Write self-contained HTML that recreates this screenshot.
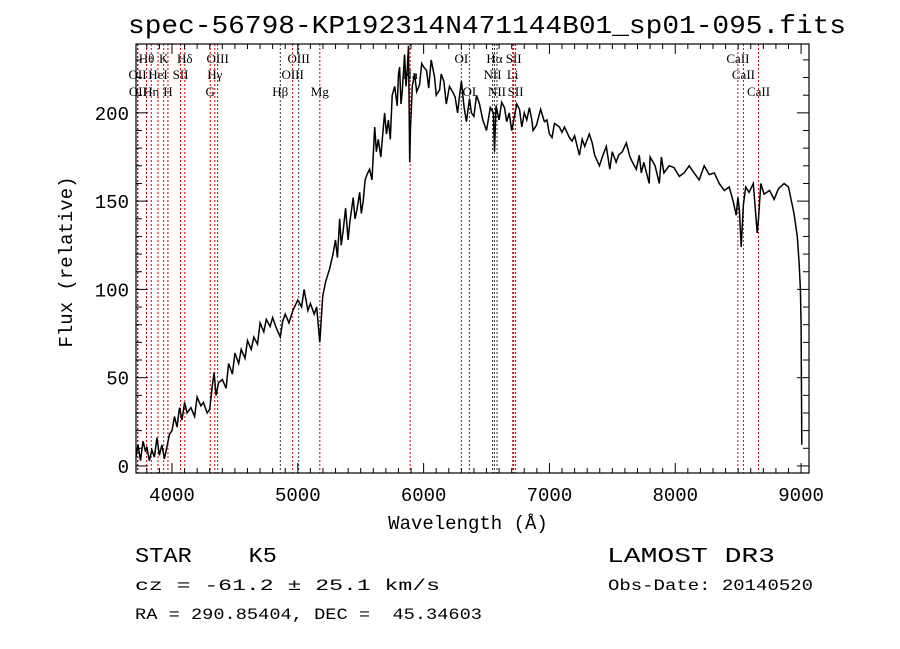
<!DOCTYPE html>
<html><head><meta charset="utf-8"><style>
html,body{margin:0;padding:0;background:#fff;}
svg{display:block;}
text{font-family:"Liberation Serif",serif;fill:#000;}
.m{font-family:"Liberation Mono",monospace;white-space:pre;}
</style></head><body>
<svg id="chart" width="900" height="649" viewBox="0 0 900 649" xmlns="http://www.w3.org/2000/svg">
<rect x="0" y="0" width="900" height="649" fill="#fff"/>
<text class="m" x="128" y="33" font-size="26" textLength="718" lengthAdjust="spacingAndGlyphs">spec-56798-KP192314N471144B01_sp01-095.fits</text>
<g id="lines"></g>
<g id="ticks"></g>
<path id="spec" fill="none" stroke="#000" stroke-width="1.5"/>
<rect x="136" y="44" width="673" height="429" fill="none" stroke="#000" stroke-width="1.2"/>
<text class="m" x="468" y="529" font-size="19" text-anchor="middle">Wavelength (Å)</text>
<text class="m" transform="translate(72,262) rotate(-90)" font-size="19" text-anchor="middle">Flux (relative)</text>
<text class="m" x="135" y="562" font-size="21" textLength="142" lengthAdjust="spacingAndGlyphs">STAR    K5</text>
<text class="m" x="607" y="562" font-size="21" textLength="168" lengthAdjust="spacingAndGlyphs">LAMOST DR3</text>
<text class="m" x="135" y="590" font-size="16" textLength="305" lengthAdjust="spacingAndGlyphs">cz = -61.2 ± 25.1 km/s</text>
<text class="m" x="608" y="590" font-size="16" textLength="205" lengthAdjust="spacingAndGlyphs">Obs-Date: 20140520</text>
<text class="m" x="135" y="619" font-size="16" textLength="347" lengthAdjust="spacingAndGlyphs">RA = 290.85404, DEC =  45.34603</text>
</svg>
<script>
const wave = [3714,3730,3750,3770,3790,3800,3820,3840,3860,3880,3900,3920,3940,3960,3980,4000,4020,4040,4060,4080,4100,4120,4150,4180,4200,4230,4250,4280,4300,4320,4335,4350,4370,4400,4430,4450,4480,4500,4530,4550,4580,4600,4630,4650,4680,4700,4730,4750,4780,4800,4830,4861,4880,4900,4930,4960,5000,5030,5050,5080,5100,5130,5150,5175,5198,5220,5254,5280,5300,5315,5333,5345,5360,5380,5400,5413,5440,5455,5470,5492,5505,5520,5535,5550,5571,5590,5611,5625,5640,5660,5690,5705,5720,5735,5750,5770,5790,5800,5809,5820,5830,5849,5860,5870,5880,5889,5895,5910,5928,5945,5968,5985,6000,6024,6040,6060,6087,6100,6127,6140,6160,6180,6206,6230,6250,6270,6286,6300,6320,6340,6365,6380,6400,6420,6444,6470,6500,6530,6555,6563,6575,6600,6620,6643,6660,6680,6700,6722,6740,6762,6780,6800,6820,6841,6860,6870,6897,6930,6960,6980,7000,7020,7040,7079,7100,7120,7159,7180,7200,7238,7260,7280,7317,7340,7360,7397,7420,7452,7480,7500,7530,7550,7580,7611,7640,7660,7690,7714,7730,7750,7793,7800,7840,7873,7890,7910,7952,7990,8032,8070,8111,8150,8190,8230,8270,8310,8349,8390,8429,8460,8484,8498,8510,8524,8542,8560,8587,8620,8651,8662,8680,8706,8750,8786,8820,8865,8900,8944,8970,8984,8995,9000,9003,9006,9010,9015];
const flux = [5,12,3,14,8,11,3,9,5,16,6,12,4,11,18,20,28,22,33,26,36,30,33,28,39,34,36,30,32,45,53,40,47,49,44,58,52,64,58,66,61,71,66,73,69,81,76,83,79,84,78,73,82,86,81,88,94,90,100,88,92,86,90,70,96,104,112,120,128,118,140,125,133,146,128,138,152,140,145,155,143,150,162,165,168,162,192,178,185,175,200,188,196,185,210,215,204,222,226,205,212,233,215,225,238,172,190,215,222,212,216,228,226,224,214,230,220,210,213,222,218,205,215,212,209,200,210,218,204,195,208,200,198,210,205,196,190,203,200,178,204,196,206,203,195,200,190,198,205,202,192,200,196,203,196,190,193,202,195,196,188,186,194,192,189,192,186,184,187,176,185,181,188,183,176,170,175,181,168,178,172,176,178,183,175,172,168,176,166,172,160,175,170,160,175,166,170,169,164,166,170,166,162,170,165,166,160,156,158,150,142,152,145,124,148,158,155,160,132,140,160,154,156,151,157,160,158,143,130,115,100,80,40,12];
const xMin=3714, xMax=9063, yMin=-4, yMax=239;
const xTicks=[4000,5000,6000,7000,8000,9000];
const yTicks=[0,50,100,150,200];
const lineWaves=[3726,3729,3798,3835,3889,3934,3968,4068,4102,4304,4340,4363,4861,4959,5007,5175,5893,6300,6364,6548,6563,6583,6708,6716,6731,8498,8542,8662];
const lineLabels=["OII","OII","Hθ","Hη","HeI","K","H","SII","Hδ","G","Hγ","OIII","Hβ","OIII","OIII","Mg","Na","OI","OI","NII","Hα","NII","Li","SII","SII","CaII","CaII","CaII"];
const lineRows=[2,3,1,3,2,1,3,2,1,3,2,1,3,2,1,3,2,1,3,2,1,3,2,1,3,1,2,3];
const L=136,R=809,T=44,B=473;
function sx(w){return L+(w-xMin)/(xMax-xMin)*(R-L);}
function sy(f){return B-(f-yMin)/(yMax-yMin)*(B-T);}
const NS="http://www.w3.org/2000/svg";
function mk(tag,attrs,parent){const e=document.createElementNS(NS,tag);for(const k in attrs)e.setAttribute(k,attrs[k]);parent.appendChild(e);return e;}
const lg=document.getElementById('lines');
const tg=document.getElementById('ticks');
const blackSet=[4861,5007,6548,6563,6583];
lineWaves.forEach((w,i)=>{
  const x=sx(w);
  const ln=mk('line',{x1:x,y1:T,x2:x,y2:B,stroke:blackSet.includes(w)?'#333':'#c00','stroke-width':1,'stroke-dasharray':'2,2'},lg);
  
  
  const yy=[0,63,79,96][lineRows[i]];
  const t=mk('text',{x:x,y:yy,'font-size':13,'text-anchor':'middle'},lg);
  t.textContent=lineLabels[i];
  
  
});
let d='';
wave.forEach((w,i)=>{d+=(i?'L':'M')+sx(w).toFixed(1)+','+sy(flux[i]).toFixed(1);});
document.getElementById('spec').setAttribute('d',d);
for(let w=3800;w<=9000;w+=100){
  const x=sx(w);const major=w%1000===0;const len=major?10:5;
  mk('line',{x1:x,y1:B,x2:x,y2:B-len,stroke:'#000','stroke-width':1},tg);
  mk('line',{x1:x,y1:T,x2:x,y2:T+len,stroke:'#000','stroke-width':1},tg);
}
xTicks.forEach(w=>{
  const t=mk('text',{x:sx(w),y:B+28,'font-size':19,'text-anchor':'middle','class':'m'},tg);
  t.textContent=String(w);
  
  
});
for(let f=0;f<=230;f+=10){
  const y=sy(f);const major=f%50===0;const len=major?12:6;
  mk('line',{x1:L,y1:y,x2:L+len,y2:y,stroke:'#000','stroke-width':1},tg);
  mk('line',{x1:R,y1:y,x2:R-len,y2:y,stroke:'#000','stroke-width':1},tg);
}
yTicks.forEach(f=>{
  const t=mk('text',{x:L-7,y:sy(f)+7,'font-size':19,'text-anchor':'end','class':'m'},tg);
  t.textContent=String(f);
  
  
});
</script>
</body></html>
